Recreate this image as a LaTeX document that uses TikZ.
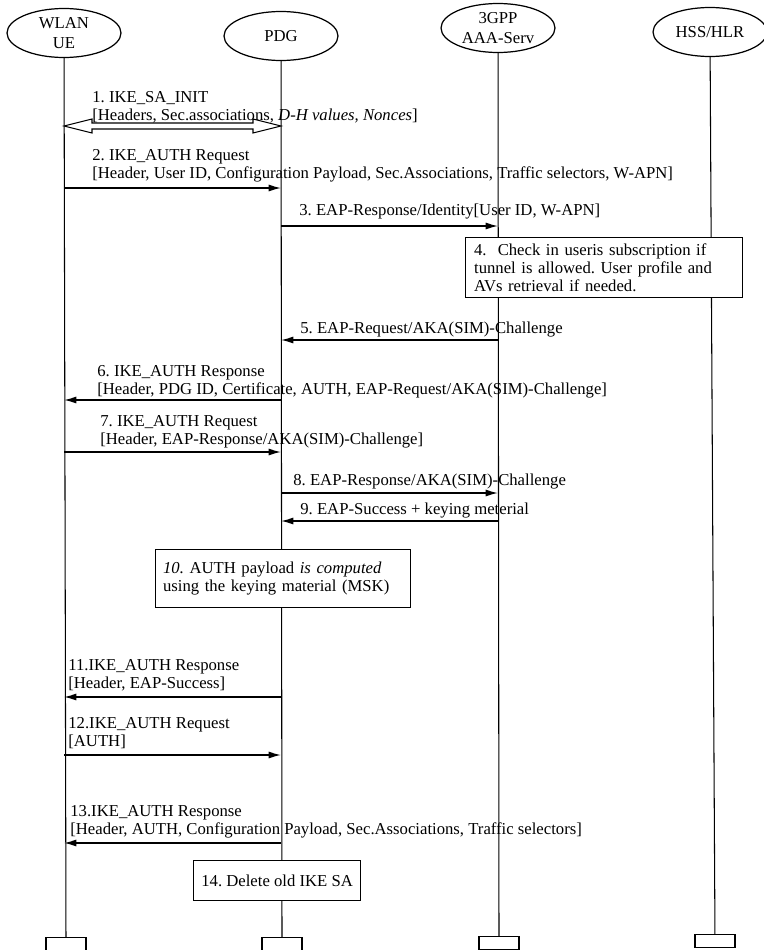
\documentclass[tikz,border=0pt]{standalone}
\usepackage{fontspec}
\setmainfont{Liberation Serif}
\frenchspacing
\usetikzlibrary{arrows.meta,calc,shapes.geometric}

\tikzset{
  actor/.style={ellipse,draw,line width=0.7pt,minimum width=2.28cm,minimum height=0.98cm,
    align=center,inner sep=0pt,font=\fontsize{9.5}{11.5}\selectfont},
  lifeend/.style={draw,line width=0.7pt,minimum width=0.8cm,minimum height=0.26cm,inner sep=0pt},
  lbl/.style={anchor=west,align=left,inner sep=0pt,font=\fontsize{9.5}{10.2}\selectfont},
  note/.style={draw,fill=white,line width=0.7pt,align=left,inner sep=0pt,font=\fontsize{9.5}{10.4}\selectfont},
  msg/.style={->,line width=0.8pt},
}

\begin{document}
\begin{tikzpicture}[x=0.02cm,y=-0.02cm,>={Latex[length=7pt,width=4pt]}]
  \useasboundingbox (0,0) rectangle (764,950);

  % actors
  \node[actor] (ue) at (64,33) {WLAN\\UE};
  \node[actor] (pdg) at (281,36) {PDG};
  \node[actor] (aaa) at (498,28) {3GPP\\AAA-Serv};
  \node[actor] (hss) at (710,32) {HSS/HLR};

  % ends of the life lines
  \node[lifeend,anchor=north] (ueend) at (66,937) {};
  \node[lifeend,anchor=north] (pdgend) at (282,937) {};
  \node[lifeend,anchor=north] (aaaend) at (499,936) {};
  \node[lifeend,anchor=north] (hssend) at (715,934) {};

  \draw[line width=0.6pt] (ue) -- (ueend);
  \draw[line width=0.6pt] (pdg) -- (pdgend);
  \draw[line width=0.6pt] (aaa) -- (aaaend);
  \draw[line width=0.6pt] (hss) -- (hssend);

  % message heights
  \coordinate (y1) at (0,126);
  \coordinate (y2) at (0,188);
  \coordinate (y3) at (0,226);
  \coordinate (y5) at (0,340);
  \coordinate (y6) at (0,400);
  \coordinate (y7) at (0,452);
  \coordinate (y8) at (0,493);
  \coordinate (y9) at (0,521);
  \coordinate (y11) at (0,697);
  \coordinate (y12) at (0,755);
  \coordinate (y13) at (0,843);

  % 1: hollow double arrow
  \path (ue |- y1) coordinate (d1a) (pdg |- y1) coordinate (d1b);
  \draw[line width=0.6pt] (d1a) -- ++(28,-7) -- ++(0,4) -- ($(d1b)+(-28,-3)$) -- ++(0,-4) -- (d1b)
    -- ++(-28,7) -- ++(0,-4) -- ($(d1a)+(28,3)$) -- ++(0,4) -- cycle;
  \node[lbl] (l1) at (92,107) {1. IKE\_SA\_INIT\\{}[Headers, Sec.associations, \textit{D-H values, Nonces}]};

  \draw[msg] (ue |- y2) -- (pdg |- y2);
  \node[lbl] (l2) at (92,166) {2. IKE\_AUTH Request\\{}[Header, User ID, Configuration Payload, Sec.Associations, Traffic selectors, W-APN]};

  \draw[msg] (pdg |- y3) -- (aaa |- y3);
  \node[lbl] (l3) at (299,212) {3. EAP-Response/Identity[User ID, W-APN]};

  \node[note,anchor=north west,minimum width=5.54cm,minimum height=1.2cm,text width=5.2cm] (n4) at (465,237)
    {4.\ \ Check in useris subscription if\\tunnel is allowed. User profile and\\AVs retrieval if needed.};

  \draw[msg] (aaa |- y5) -- (pdg |- y5);
  \node[lbl] (l5) at (300,330) {5. EAP-Request/AKA(SIM)-Challenge};

  \draw[msg] (pdg |- y6) -- (ue |- y6);
  \node[lbl] (l6) at (97,382) {6. IKE\_AUTH Response\\{}[Header, PDG ID, Certificate, AUTH, EAP-Request/AKA(SIM)-Challenge]};

  \draw[msg] (ue |- y7) -- (pdg |- y7);
  \node[lbl] (l7) at (100,432) {7. IKE\_AUTH Request\\{}[Header, EAP-Response/AKA(SIM)-Challenge]};

  \draw[msg] (pdg |- y8) -- (aaa |- y8);
  \node[lbl] (l8) at (293,482) {8. EAP-Response/AKA(SIM)-Challenge};

  \draw[msg] (aaa |- y9) -- (pdg |- y9);
  \node[lbl] (l9) at (300,511) {9. EAP-Success + keying meterial};

  \node[note,anchor=north west,minimum width=5.1cm,minimum height=1.16cm,text width=4.8cm] (n10) at (155,549)
    {\textit{10.} AUTH payload \textit{is computed}\\using the keying material (MSK)};

  \draw[msg] (pdg |- y11) -- (ue |- y11);
  \node[lbl] (l11) at (68,675) {11.IKE\_AUTH Response\\{}[Header, EAP-Success]};

  \draw[msg] (ue |- y12) -- (pdg |- y12);
  \node[lbl] (l12) at (68,733) {12.IKE\_AUTH Request\\{}[AUTH]};

  \draw[msg] (pdg |- y13) -- (ue |- y13);
  \node[lbl] (l13) at (70,822) {13.IKE\_AUTH Response\\{}[Header, AUTH, Configuration Payload, Sec.Associations, Traffic selectors]};

  \node[note,anchor=north west,minimum width=3.34cm,minimum height=0.8cm,align=center] (n14) at (193,860)
    {14. Delete old IKE SA};
\end{tikzpicture}
\end{document}
